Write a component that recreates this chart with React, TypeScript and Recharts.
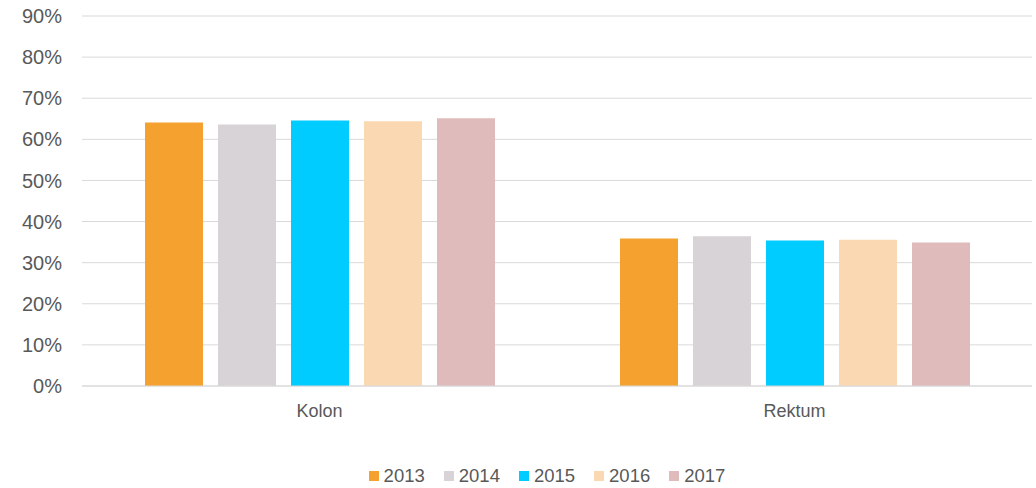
import React from "react";
import {
  BarChart,
  Bar,
  XAxis,
  YAxis,
  CartesianGrid,
  Legend,
} from "recharts";

const categories = ["Kolon", "Rektum"];
const years = ["2013", "2014", "2015", "2016", "2017"];
const colors = ["#F4A12F", "#D7D3D6", "#00CCFF", "#FAD8B2", "#E0BBBB"];
const values2013 = [64.1, 35.9];
const values2014 = [63.6, 36.4];
const values2015 = [64.6, 35.4];
const values2016 = [64.4, 35.6];
const values2017 = [65.1, 34.9];
const yTicks = [0, 10, 20, 30, 40, 50, 60, 70, 80, 90];

const series = [values2013, values2014, values2015, values2016, values2017];

const data = categories.map((name, i) => {
  const row: Record<string, string | number> = { name };
  years.forEach((y, j) => {
    row[y] = series[j][i];
  });
  return row;
});

const textColor = "#595959";
const font = "'Liberation Sans', Arial, sans-serif";

const renderLegend = () => (
  <div
    style={{
      height: 24,
      display: "flex",
      justifyContent: "center",
      alignItems: "center",
      paddingLeft: 62,
      fontFamily: font,
      fontSize: 18.5,
      color: textColor,
    }}
  >
    {years.map((y, i) => (
      <div
        key={y}
        style={{
          display: "flex",
          alignItems: "center",
          marginRight: i < years.length - 1 ? 19 : 0,
        }}
      >
        <span
          style={{
            width: 10,
            height: 10,
            background: colors[i],
            display: "inline-block",
            marginRight: 5,
          }}
        />
        <span>{y}</span>
      </div>
    ))}
  </div>
);

const App = () => {
  return (
    <div style={{ position: "absolute", left: 0, top: 0 }}>
      <BarChart
        width={1036}
        height={488}
        data={data}
        margin={{ top: 16, right: 4, left: 0, bottom: 0 }}
        barSize={58}
        barGap={15}
      >
        <CartesianGrid vertical={false} stroke="#d9d9d9" />
        <XAxis
          dataKey="name"
          height={78}
          axisLine={{ stroke: "#d9d9d9" }}
          tickLine={false}
          tickMargin={12}
          tick={{ fill: textColor, fontSize: 18, fontFamily: font }}
        />
        <YAxis
          width={82}
          domain={[0, 90]}
          ticks={yTicks}
          interval={0}
          axisLine={false}
          tickLine={false}
          tickMargin={14}
          tickFormatter={(v: number) => `${v}%`}
          tick={{ fill: textColor, fontSize: 20, fontFamily: font }}
        />
        <Legend verticalAlign="bottom" content={renderLegend} />
        {years.map((y, i) => (
          <Bar key={y} dataKey={y} fill={colors[i]} isAnimationActive={false} />
        ))}
      </BarChart>
    </div>
  );
};

export default App;
